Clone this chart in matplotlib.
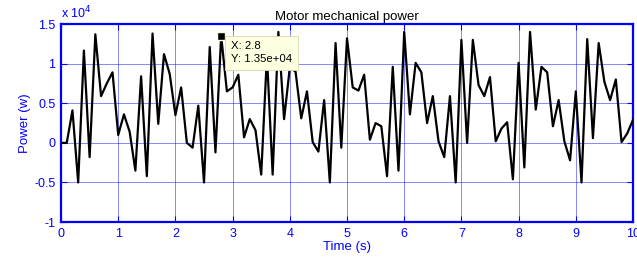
import numpy as np
import matplotlib
matplotlib.use("Agg")
import matplotlib.pyplot as plt
from matplotlib.ticker import FuncFormatter

# Time axis (s) and power samples (in units of 1e4 W)
time_s = np.round(np.arange(0, 10.01, 0.1), 1)
power_e4 = [
    0.00, 0.00, 0.41, -0.50, 1.165, -0.18, 1.37, 0.59, 0.75, 0.89,
    0.10, 0.36, 0.14, -0.35, 0.84, -0.42, 1.38, 0.24, 1.12, 0.87,
    0.35, 0.70, 0.00, -0.06, 0.47, -0.50, 1.21, -0.12, 1.35, 0.65,
    0.70, 0.86, 0.07, 0.30, 0.16, -0.40, 1.10, -0.40, 1.40, 0.30,
    0.95, 0.90, 0.31, 0.65, 0.01, -0.11, 0.54, -0.50, 1.26, -0.06,
    1.32, 0.70, 0.66, 0.86, 0.04, 0.25, 0.21, -0.42, 0.96, -0.35,
    1.40, 0.36, 1.01, 0.89, 0.25, 0.59, 0.02, -0.18, 0.59, -0.50,
    1.30, 0.00, 1.30, 0.73, 0.59, 0.83, 0.02, 0.18, 0.26, -0.46,
    1.01, -0.31, 1.40, 0.42, 0.96, 0.89, 0.21, 0.54, 0.02, -0.22,
    0.65, -0.50, 1.31, 0.06, 1.26, 0.77, 0.54, 0.80, 0.01, 0.12,
    0.29,
]
power_w = np.array(power_e4) * 1e4

tip_x = 2.8
tip_y = 1.35e4

x_ticks = list(range(0, 11))
y_ticks = [-1e4, -0.5e4, 0, 0.5e4, 1e4, 1.5e4]

blue = "#0000ff"
plt.rcParams["font.family"] = ["Liberation Sans", "DejaVu Sans"]

fig = plt.figure(figsize=(6.37, 2.61), dpi=100)
ax = fig.add_axes([0.0958, 0.149, 0.8979, 0.759])

ax.plot(time_s, power_w, color="black", lw=1.6, zorder=3)

ax.set_xlim(0, 10)
ax.set_ylim(-1e4, 1.5e4)
ax.set_xticks(x_ticks)
ax.set_yticks(y_ticks)
ax.yaxis.set_major_formatter(FuncFormatter(lambda v, p: f"{v / 1e4:g}"))

ax.grid(True, color=blue, lw=0.6, alpha=0.55)
for s in ax.spines.values():
    s.set_color(blue)
    s.set_linewidth(1.6)
ax.tick_params(direction="in", colors=blue, labelsize=9, length=4,
               top=True, right=True, pad=4)
for lbl in ax.get_xticklabels() + ax.get_yticklabels():
    lbl.set_color(blue)

ax.set_title("Motor mechanical power", fontsize=9.5, color="black", pad=3)
ax.set_xlabel("Time (s)", color=blue, fontsize=9.5, labelpad=1)
ax.set_ylabel("Power (w)", color=blue, fontsize=9.5, labelpad=2)
ax.text(0.0, 1.015, r"x 10$^4$", transform=ax.transAxes, color=blue,
        fontsize=9, ha="left", va="bottom")

# data tip
ax.plot([tip_x], [tip_y], marker="s", color="black", ms=5.5, zorder=5,
        markeredgecolor="#ffffcc")
ax.annotate(f"X: {tip_x:g}\nY: {tip_y:.2e}",
            xy=(tip_x, tip_y), xytext=(7, -4), textcoords="offset points",
            ha="left", va="top", fontsize=8.2, color="black",
            linespacing=1.35, zorder=6,
            bbox=dict(boxstyle="square,pad=0.5", fc="#ffffe1", ec="#d8d8b0", lw=0.6))

fig.savefig("out.png", dpi=100)
